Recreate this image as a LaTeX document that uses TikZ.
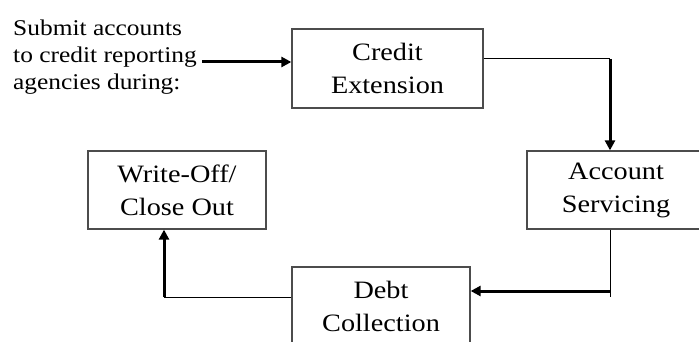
\documentclass[tikz,border=0pt]{standalone}
\usepackage{fontspec}
\setmainfont{Liberation Serif}
\newfontfamily\stretchedserif[FakeStretch=1.13]{Liberation Serif}
\usetikzlibrary{arrows.meta}

\begin{document}
\begin{tikzpicture}[x=1pt,y=-1pt,line join=miter,
  stage/.style={draw=black!70,line width=1.3pt,minimum width=178pt,minimum height=78pt,
    align=center,inner sep=0pt,font=\stretchedserif\fontsize{25}{33}\selectfont},
  link/.style={line width=1pt},
  flow/.style={line width=3pt,-{Triangle[length=10pt,width=10pt]}}]
  \useasboundingbox (0,0) rectangle (699,342);

  \node[inner sep=0pt,anchor=west,align=left,font=\stretchedserif\fontsize{22.5}{27}\selectfont]
    (submit) at (13,57) {Submit accounts\\to credit reporting\\agencies during:};

  \node[stage,minimum width=191pt,minimum height=79pt] (credit) at (387.5,68.5) {Credit\\Extension};
  \node[stage] (account) at (616,190) {Account\\Servicing};
  \node[stage] (debt) at (381,306) {Debt\\Collection};
  \node[stage] (writeoff) at (177,190) {Write-Off/\\Close Out};

  % bends of the connectors
  \coordinate (src) at (202,62);
  \coordinate (c1) at (610,59);
  \coordinate (c2) at (610,297);
  \coordinate (c2a) at (610,291);
  \coordinate (c3) at (164,297);

  \draw[flow] (src) -- (src -| credit.west);
  \draw[link] ([yshift=9.5pt]credit.east) -- (c1);
  \draw[flow] (c1) -- (c1 |- account.north);
  \draw[link] (c1 |- account.south) -- (c2);
  \draw[flow] (c2a) -- (c2a -| debt.east);
  \draw[link] (debt.west |- c3) -- (c3);
  \draw[flow] (c3) -- (c3 |- writeoff.south);

\end{tikzpicture}
\end{document}
